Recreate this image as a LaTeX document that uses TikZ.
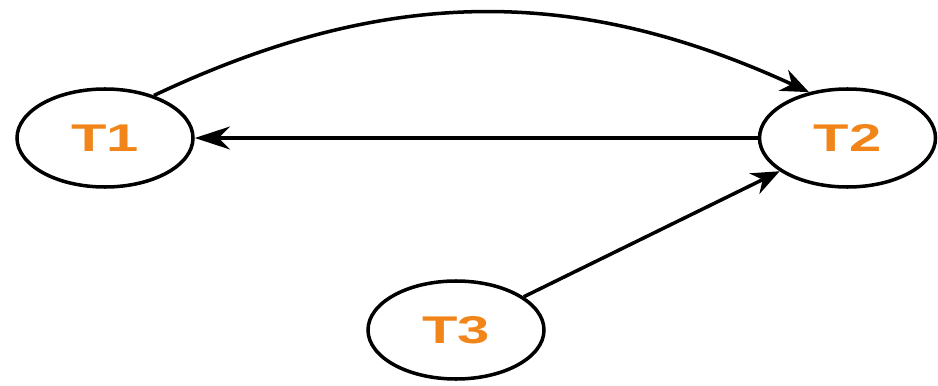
\documentclass[tikz,border=0pt]{standalone}
\usepackage{fontspec}
\setsansfont{Liberation Sans}
\usepackage{graphicx}
\usepackage{tikz}
\usetikzlibrary{shapes.geometric, arrows.meta, positioning}
\definecolor{tasklabel}{RGB}{242,133,25}
\newcommand{\wide}[1]{\scalebox{1.5}[1]{#1}}

\begin{document}
\begin{tikzpicture}[
  task/.style={draw, ellipse, line width=2pt, inner sep=0pt,
    minimum width=3.52cm, minimum height=1.96cm,
    font=\sffamily\bfseries\fontsize{22}{26}\selectfont, text=tasklabel},
  link/.style={-{Stealth[length=16pt,width=13pt]}, line width=2pt},
  longtip/.style={-{Stealth[length=20pt,width=13pt]}},
]
\useasboundingbox (0,0) rectangle (18.76,7.7);

\node[task] (T1) at (2.1,4.94) {\wide{T1}};
\node[task, right=11.26cm of T1] (T2) {\wide{T2}};
\node[task] (T3) at (9.12,1.1) {\wide{T3}};

\draw[link] (T1.41) to[bend left=25] (T2.130);
\draw[link, longtip] (T2) -- (T1);
\draw[link] (T3) -- (T2);
\end{tikzpicture}
\end{document}
